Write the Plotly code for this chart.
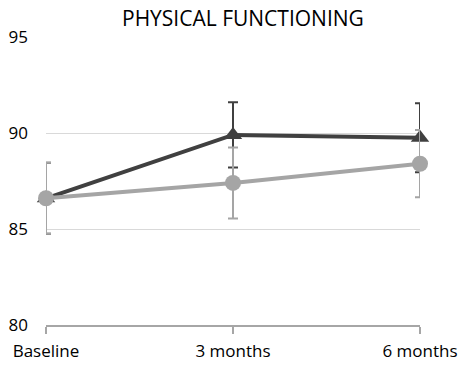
import plotly.graph_objects as go

categories = ["Baseline", "3 months", "6 months"]
group_a = [86.6, 89.9, 89.75]
group_a_err = [1.85, 1.7, 1.8]
group_b = [86.6, 87.4, 88.4]
group_b_err = [1.85, 1.85, 1.75]
y_ticks = [80, 85, 90, 95]

dark = "#404040"
light = "#a5a5a5"
font = "Open Sans"

fig = go.Figure()
fig.add_trace(go.Scatter(
    x=[0, 1, 2], y=group_a, mode="lines+markers",
    line=dict(color=dark, width=4),
    marker=dict(symbol="triangle-up", size=16, color=dark),
    error_y=dict(type="data", array=group_a_err, visible=True, color=dark, thickness=2, width=5),
    showlegend=False,
))
fig.add_trace(go.Scatter(
    x=[0, 1, 2], y=group_b, mode="lines+markers",
    line=dict(color=light, width=4),
    marker=dict(symbol="circle", size=16, color=light),
    error_y=dict(type="data", array=group_b_err, visible=True, color=light, thickness=2, width=5),
    showlegend=False,
))

fig.update_layout(
    width=461, height=366,
    margin=dict(l=46, r=41, t=37, b=41),
    plot_bgcolor="white", paper_bgcolor="white",
    title=dict(text="PHYSICAL FUNCTIONING", x=0.527, xanchor="center", y=0.95, yanchor="middle",
               font=dict(family=font, size=21, color="#000000")),
    font=dict(family=font, size=17, color="#000000"),
    xaxis=dict(
        range=[0, 2], tickvals=[0, 1, 2], ticktext=categories,
        showgrid=False, zeroline=False, showline=True, linecolor="#a6a6a6", linewidth=1.5,
        ticks="outside", ticklen=7, tickcolor="#a6a6a6", tickwidth=1.5,
        tickfont=dict(family=font, size=17), ticklabelstandoff=3, automargin=False,
    ),
    yaxis=dict(
        range=[80, 95], tickvals=y_ticks,
        showgrid=True, gridcolor="#d9d9d9", gridwidth=1, zeroline=False, showline=False,
        tickfont=dict(family=font, size=17), ticklabelstandoff=17, automargin=False,
    ),
)
fig.update_traces(cliponaxis=False)

fig.write_html("out.html")
